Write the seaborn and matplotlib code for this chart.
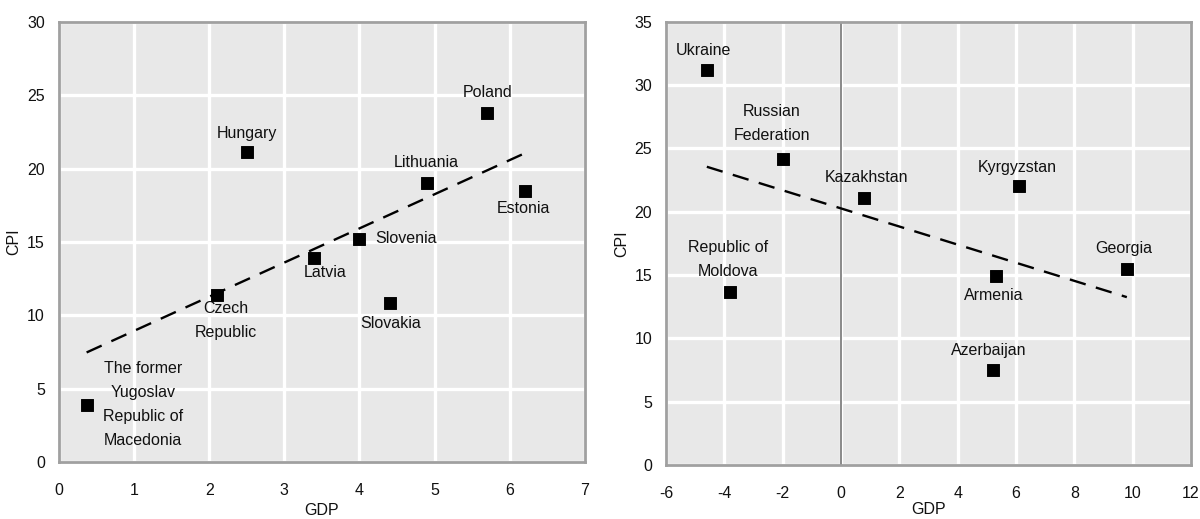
import numpy as np
import pandas as pd
import matplotlib
matplotlib.use("Agg")
import matplotlib.pyplot as plt
import seaborn as sns

# Central Europe group
ce_countries = ["The former\nYugoslav\nRepublic of\nMacedonia", "Czech\nRepublic", "Hungary", "Latvia",
                "Slovenia", "Slovakia", "Lithuania", "Poland", "Estonia"]
ce_gdp = [0.37, 2.1, 2.5, 3.4, 4.0, 4.4, 4.9, 5.7, 6.2]
ce_cpi = [3.9, 11.4, 21.1, 13.9, 15.2, 10.8, 19.0, 23.8, 18.5]

# CIS group
cis_countries = ["Ukraine", "Russian\nFederation", "Republic of\nMoldova", "Kazakhstan", "Kyrgyzstan",
                 "Armenia", "Georgia", "Azerbaijan"]
cis_gdp = [-4.6, -2.0, -3.8, 0.8, 6.1, 5.3, 9.8, 5.2]
cis_cpi = [31.2, 24.2, 13.7, 21.1, 22.0, 14.9, 15.5, 7.5]

# Label placement relative to each marker: (dx px, dy px, horizontal alignment)
ce_label_layout = [(16, 0, "left"), (9, -26, "center"), (0, 19, "center"), (11, -15, "center"),
                   (16, 0, "left"), (1.5, -20, "center"), (-1, 21, "center"), (0, 20, "center"),
                   (-1.5, -18, "center")]
cis_label_layout = [(-3, 19, "center"), (-11, 35, "center"), (-2, 32, "center"), (2, 20, "center"),
                    (-2, 19, "center"), (-1.5, -19, "center"), (-3, 20, "center"), (-3.5, 20, "center")]

sns.set_theme(style="darkgrid")
plt.rcParams["font.family"] = ["Liberation Sans", "DejaVu Sans"]
plt.rcParams["axes.unicode_minus"] = False

FS = 11.5
PX = 72 / 100  # points per pixel at 100 dpi

fig = plt.figure(figsize=(12, 5.19), dpi=100)
ax1 = fig.add_axes([0.049, 0.110, 0.4385, 0.848])
ax2 = fig.add_axes([0.555, 0.104, 0.4375, 0.854])


def draw(ax, names, gdp, cpi, layout, xlim, ylim, xticks, yticks, xlabelpad):
    df = pd.DataFrame({"GDP": gdp, "CPI": cpi})
    ax.set_facecolor("#e8e8e8")
    sns.regplot(data=df, x="GDP", y="CPI", ax=ax, scatter=False, ci=None,
                line_kws=dict(color="black", lw=1.7, dashes=(7, 4.5)))
    sns.scatterplot(data=df, x="GDP", y="CPI", ax=ax, marker="s", s=68,
                    color="black", edgecolor="black", zorder=5)
    for name, x, y, (dx, dy, ha) in zip(names, gdp, cpi, layout):
        ax.annotate(name, (x, y), xytext=(dx * PX, dy * PX), textcoords="offset points",
                    ha=ha, va="center", fontsize=FS, color="#111111",
                    multialignment="center", linespacing=1.75)
    ax.set_xlim(*xlim)
    ax.set_ylim(*ylim)
    ax.set_xticks(xticks)
    ax.set_yticks(yticks)
    ax.grid(True, color="white", lw=2.4)
    ax.set_axisbelow(True)
    for s in ax.spines.values():
        s.set_visible(True)
        s.set_color("#a0a0a0")
        s.set_linewidth(2)
    ax.tick_params(axis="both", length=0, labelsize=FS, colors="#111111")
    ax.tick_params(axis="x", pad=15)
    ax.tick_params(axis="y", pad=10)
    ax.set_xlabel("GDP", fontsize=FS, color="#111111", labelpad=xlabelpad)
    ax.set_ylabel("CPI", fontsize=FS, color="#111111", labelpad=4)


draw(ax1, ce_countries, ce_gdp, ce_cpi, ce_label_layout, (0, 7), (0, 30),
     range(0, 8), range(0, 31, 5), 4)
draw(ax2, cis_countries, cis_gdp, cis_cpi, cis_label_layout, (-6, 12), (0, 35),
     range(-6, 13, 2), range(0, 36, 5), 1)
ax2.axvline(0, color="#808080", lw=1.3, zorder=1.5)

fig.savefig("out.png", dpi=100)
